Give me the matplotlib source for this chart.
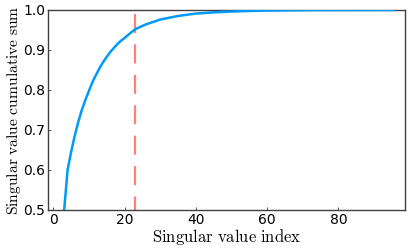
import matplotlib
matplotlib.use("Agg")
import matplotlib.pyplot as plt

plt.rcParams['mathtext.fontset'] = 'cm'
plt.rcParams['lines.scale_dashes'] = False

# data
index = [1, 2, 3, 4, 5, 6, 7, 8, 9, 10, 11, 12, 13, 14, 15, 16, 17, 18, 19, 20,
         22, 23, 26, 30, 35, 40, 45, 50, 55, 60, 70, 80, 96]
cumsum = [0.38, 0.45, 0.495, 0.60, 0.645, 0.685, 0.72, 0.75, 0.775, 0.798, 0.82,
          0.838, 0.855, 0.87, 0.883, 0.895, 0.905, 0.915, 0.923, 0.93,
          0.945, 0.952, 0.964, 0.976, 0.985, 0.991, 0.994, 0.996, 0.9975,
          0.9985, 0.9994, 0.9998, 1.0]
cut_x = [23, 23]
cut_y = [0.99, 0.40]
xticks = [0, 20, 40, 60, 80]
yticks = [0.5, 0.6, 0.7, 0.8, 0.9, 1.0]

fig = plt.figure(figsize=(4.15, 2.49), dpi=100)
ax = fig.add_axes([0.115, 0.157, 0.861, 0.803])
ax.plot(index, cumsum, color='#009AFA', lw=1.8, solid_capstyle='butt', zorder=3)
ax.plot(cut_x, cut_y, color='#ff7f7f', lw=1.6, dashes=(13.7, 8.2), zorder=2)

ax.set_xlim(-1.57, 98.7)
ax.set_ylim(0.5, 1.0)
ax.set_xticks(xticks)
ax.set_yticks(yticks)
ax.set_xticklabels([str(t) for t in xticks])
ax.set_yticklabels([f"{t:.1f}" for t in yticks])
ax.tick_params(direction='in', length=2.5, width=0.6, color='#404040',
               labelsize=10, pad=2, top=False, right=False)
for s in ax.spines.values():
    s.set_color('#404040')
    s.set_linewidth(1.0)

ax.set_xlabel(r'$\mathrm{Singular\ value\ index}$', fontsize=12, labelpad=0)
ax.set_ylabel(r'$\mathrm{Singular\ value\ cumulative\ sum}$', fontsize=11.2, labelpad=0)

fig.savefig('out.png', dpi=100)
